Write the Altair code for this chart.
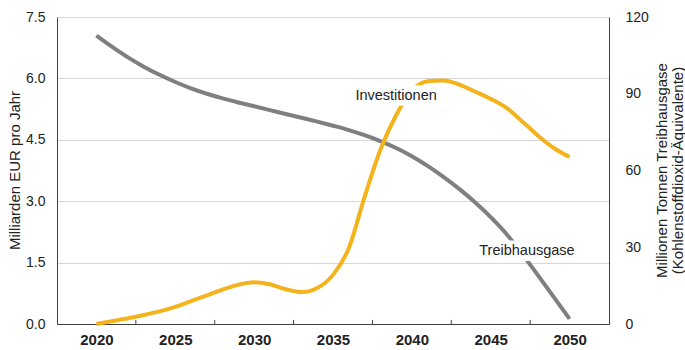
import altair as alt
import pandas as pd

# ---- data ----
years = list(range(2020, 2051))
investitionen = [0.00, 0.07, 0.14, 0.22, 0.31, 0.42, 0.56, 0.70, 0.84, 0.96,
                 1.02, 0.97, 0.85, 0.78, 0.88, 1.20, 1.85, 3.10, 4.25, 5.10,
                 5.70, 5.93, 5.95, 5.85, 5.68, 5.50, 5.28, 4.95, 4.60, 4.30, 4.08]
treibhausgase = [112.7, 108.3, 104.2, 100.6, 97.4, 94.6, 92.1, 90.0, 88.2, 86.6,
                 85.1, 83.6, 82.1, 80.6, 79.1, 77.5, 75.8, 73.8, 71.5, 68.8,
                 65.6, 61.8, 57.5, 52.8, 47.6, 41.8, 35.2, 27.3, 19.0, 10.5, 2.0]

x_labels = [2020, 2025, 2030, 2035, 2040, 2045, 2050]
x_ticks = [2022.5, 2027.5, 2032.5, 2037.5, 2042.5, 2047.5]
left_ticks = [0, 1.5, 3.0, 4.5, 6.0, 7.5]
right_ticks = [0, 30, 60, 90, 120]

# annotations (label text, anchor, and the white box behind each label)
label_invest = ["Investitionen"]
label_invest_year = [2039.0]
label_invest_value = [5.57]
box_inv_year = [2036.4]
box_inv_year2 = [2041.6]
box_inv_value = [5.33]
box_inv_value2 = [5.83]

label_ghg = ["Treibhausgase"]
label_ghg_year = [2047.3]
label_ghg_value = [28.5]
box_ghg_year = [2044.9]
box_ghg_year2 = [2051.3]
box_ghg_value = [24.6]
box_ghg_value2 = [32.6]

YELLOW = "#f4b31c"
GRAY = "#7f7f7f"
FONT = "Liberation Sans"
TXT = "#222222"
AX = "#404040"

df = pd.DataFrame({"year": years, "invest": investitionen, "ghg": treibhausgase})

x_scale = alt.Scale(domain=[2017.5, 2052.5], nice=False, zero=False)
x_enc = alt.X("year:Q", scale=x_scale,
              axis=alt.Axis(values=x_labels, format="d", ticks=False, grid=False,
                            labelFontWeight="bold", labelFontSize=15, labelPadding=8,
                            labelColor=TXT, labelFlush=False, domainColor=AX,
                            title=None))

yl_scale = alt.Scale(domain=[0, 7.5], nice=False, zero=True)
yr_scale = alt.Scale(domain=[0, 120], nice=False, zero=True)

yl_axis = alt.Axis(orient="left", values=left_ticks, format=".1f", ticks=False,
                   tickSize=0, labelPadding=12, labelFontSize=14, labelColor=TXT,
                   grid=True, gridColor="#d6d6d6", domainColor=AX,
                   title="Milliarden EUR pro Jahr", titleFontSize=15,
                   titleFontWeight="normal", titleColor=TXT, titleAngle=-90,
                   titleX=-43, titleY=153, titleBaseline="middle", titleAlign="center")
yr_axis = alt.Axis(orient="right", values=right_ticks, format="d", ticks=False,
                   tickSize=0, labelPadding=16, labelFontSize=14, labelColor=TXT,
                   grid=False, domainColor=AX,
                   title=["Millionen Tonnen Treibhausgase", "(Kohlenstoffdioxid-Äquivalente)"],
                   titleFontSize=15, titleFontWeight="normal", titleColor=TXT,
                   titleAngle=-90, titleX=52, titleY=153, titleBaseline="middle",
                   titleAlign="center", titleLineHeight=16)

yl = alt.Y("invest:Q", scale=yl_scale, axis=yl_axis)
yr = alt.Y("ghg:Q", scale=yr_scale, axis=yr_axis)

yellow_line = alt.Chart(df).mark_line(color=YELLOW, strokeWidth=4, interpolate="monotone").encode(
    x=x_enc, y=yl)

box_inv = alt.Chart(pd.DataFrame({"year": box_inv_year, "year2": box_inv_year2,
                                  "invest": box_inv_value, "invest2": box_inv_value2})).mark_rect(
    color="white").encode(x=x_enc, x2="year2:Q", y=yl, y2="invest2:Q")

invest_text = alt.Chart(pd.DataFrame({"year": label_invest_year, "invest": label_invest_value,
                                      "t": label_invest})).mark_text(
    font=FONT, fontSize=14.5, color=TXT, align="center", baseline="middle").encode(
    x=x_enc, y=yl, text="t:N")

tick_df = pd.DataFrame({"year": x_ticks, "invest": [0.0] * len(x_ticks), "invest2": [0.1] * len(x_ticks)})
ticks = alt.Chart(tick_df).mark_rule(color=AX, strokeWidth=1).encode(
    x=x_enc, y=yl, y2="invest2:Q")

gray_line = alt.Chart(df).mark_line(color=GRAY, strokeWidth=4, interpolate="monotone").encode(
    x=x_enc, y=yr)

box_ghg = alt.Chart(pd.DataFrame({"year": box_ghg_year, "year2": box_ghg_year2,
                                  "ghg": box_ghg_value, "ghg2": box_ghg_value2})).mark_rect(
    color="white").encode(x=x_enc, x2="year2:Q", y=yr, y2="ghg2:Q")

ghg_text = alt.Chart(pd.DataFrame({"year": label_ghg_year, "ghg": label_ghg_value,
                                   "t": label_ghg})).mark_text(
    font=FONT, fontSize=14.5, color=TXT, align="center", baseline="middle").encode(
    x=x_enc, y=yr, text="t:N")

right_layer = alt.layer(gray_line, box_ghg, ghg_text)
left_layer = alt.layer(yellow_line, box_inv, invest_text, ticks)

chart = alt.layer(right_layer, left_layer).resolve_scale(y="independent").properties(
    width=552, height=307,
    padding={"left": 57, "top": 17, "right": 76, "bottom": 26},
    autosize=alt.AutoSizeParams(type="none"),
    background="white",
).configure_view(stroke=None).configure_axis(labelFont=FONT, titleFont=FONT).configure_text(font=FONT)

chart.save("out.html", embed_options={"renderer": "svg", "actions": False})
